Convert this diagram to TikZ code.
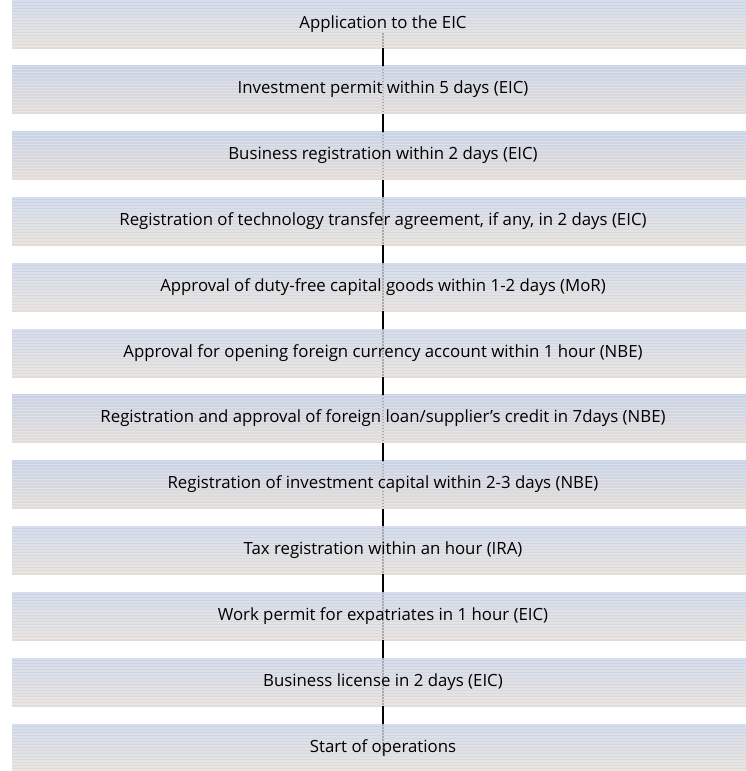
\documentclass[tikz,border=0pt]{standalone}
\usepackage{fontspec}
\setmainfont{Open Sans}
\definecolor{boxtop}{HTML}{C9D3E6}
\definecolor{boxmid}{HTML}{D6D9E0}
\definecolor{boxbot}{HTML}{E3DDD8}
\definecolor{inline}{HTML}{A8A8A8}
\tikzset{
  box/.style={minimum width=734pt, minimum height=48pt, inner sep=0pt, outer sep=0pt,
    top color=boxtop, middle color=boxmid, bottom color=boxbot, draw=none,
    path picture={\foreach \k in {0,...,15}{\fill[white,opacity=0.25]
      ([yshift=-3*\k pt]path picture bounding box.north west) rectangle
      ([yshift=-3*\k pt-1.5pt]path picture bounding box.north east);}}},
  lbl/.style={inner sep=0pt, anchor=base, font=\fontsize{16.8pt}{19pt}\selectfont, text=black},
  conn/.style={draw=black, line width=2pt},
  inbox/.style={draw=inline, line width=1.2pt, dash pattern=on 1.5pt off 1.5pt},
}
\begin{document}
\begin{tikzpicture}[x=1pt,y=-1pt]
\useasboundingbox (0,0) rectangle (746,771);
\coordinate (lx) at (383,0);
\coordinate (lstart) at (383,33);
\coordinate (lend) at (383,755);
% boxes
\node[box] (b1) at (379,24) {};
\node[box] (b2) at (379,89.8) {};
\node[box] (b3) at (379,155.6) {};
\node[box] (b4) at (379,221.4) {};
\node[box] (b5) at (379,287.2) {};
\node[box] (b6) at (379,353) {};
\node[box] (b7) at (379,418.8) {};
\node[box] (b8) at (379,484.6) {};
\node[box] (b9) at (379,550.4) {};
\node[box] (b10) at (379,616.2) {};
\node[box] (b11) at (379,682) {};
\node[box, minimum height=47pt] (b12) at (379,747.5) {};
% connectors in gaps
\foreach \a/\b in {1/2,2/3,3/4,4/5,5/6,6/7,7/8,8/9,9/10,10/11,11/12}
  \draw[conn] (b\a.south -| lx) -- (b\b.north -| lx);
% connector parts seen through boxes
\draw[inbox] (lstart) -- (b1.south -| lx);
\foreach \a in {2,...,11}
  \draw[inbox] (b\a.north -| lx) -- (b\a.south -| lx);
\draw[inbox] (b12.north -| lx) -- (lend);
% labels
\node[lbl] (t1) at (383,28) {Application to the EIC};
\node[lbl] (t2) at (383,93.8) {Investment permit within 5 days (EIC)};
\node[lbl] (t3) at (383,159.6) {Business registration within 2 days (EIC)};
\node[lbl] (t4) at (383,225.4) {Registration of technology transfer agreement, if any, in 2 days (EIC)};
\node[lbl] (t5) at (383,291.2) {Approval of duty-free capital goods within 1-2 days (MoR)};
\node[lbl] (t6) at (383,357) {Approval for opening foreign currency account within 1 hour (NBE)};
\node[lbl] (t7) at (383,422.8) {Registration and approval of foreign loan/supplier’s credit in 7days (NBE)};
\node[lbl] (t8) at (383,488.6) {Registration of investment capital within 2-3 days (NBE)};
\node[lbl] (t9) at (383,554.4) {Tax registration within an hour (IRA)};
\node[lbl] (t10) at (383,620.2) {Work permit for expatriates in 1 hour (EIC)};
\node[lbl] (t11) at (383,686) {Business license in 2 days (EIC)};
\node[lbl] (t12) at (383,752) {Start of operations};
\end{tikzpicture}
\end{document}
